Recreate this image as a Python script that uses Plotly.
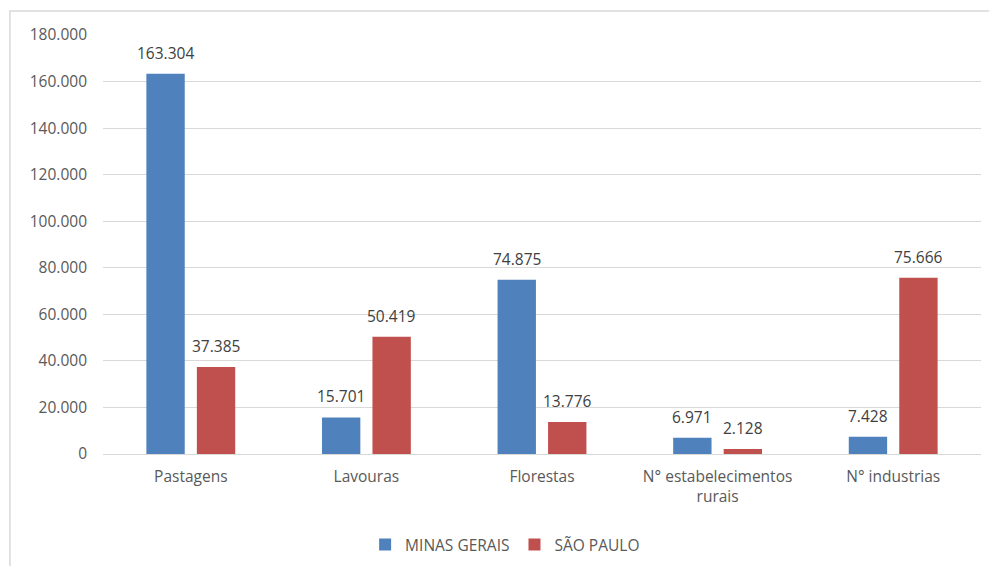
import plotly.graph_objects as go

categories = ["Pastagens", "Lavouras", "Florestas", "N° estabelecimentos<br>rurais", "N° industrias"]
minas_gerais = [163304, 15701, 74875, 6971, 7428]
sao_paulo = [37385, 50419, 13776, 2128, 75666]
tick_vals = [0, 20000, 40000, 60000, 80000, 100000, 120000, 140000, 160000, 180000]

FONT = "Open Sans, Liberation Sans, sans-serif"
TXT = "#595959"
SIZE = 15.5

fig = go.Figure()
fig.add_trace(go.Bar(
    name="MINAS GERAIS", x=categories, y=minas_gerais, offsetgroup="mg",
    marker=dict(color="#4F81BD", line=dict(width=0)),
))
fig.add_trace(go.Bar(
    name="SÃO PAULO", x=categories, y=sao_paulo, offsetgroup="sp",
    marker=dict(color="#C0504D", line=dict(width=0)),
))

# value labels above each bar, using Brazilian thousands separator
def fmt(v):
    return f"{v:,}".replace(",", ".")

annotations = []
for series, shift in ((minas_gerais, -0.143), (sao_paulo, 0.143)):
    for i, v in enumerate(series):
        annotations.append(dict(
            x=i + shift, y=v, xref="x", yref="y", text=fmt(v),
            showarrow=False, yanchor="bottom", yshift=8,
            font=dict(family=FONT, size=SIZE, color="#404040"),
        ))

fig.update_layout(
    width=989, height=566,
    margin=dict(l=103, r=8, t=35, b=112, autoexpand=False),
    paper_bgcolor="white", plot_bgcolor="white",
    separators=",.",
    barmode="group", bargap=0.425, bargroupgap=0.24,
    font=dict(family=FONT, size=SIZE, color=TXT),
    showlegend=True,
    legend=dict(orientation="h", x=0.458, xanchor="center", y=-0.217, yanchor="middle",
                font=dict(family=FONT, size=SIZE, color=TXT),
                traceorder="normal"),
    annotations=annotations,
    shapes=[dict(type="rect", xref="paper", yref="paper",
                 x0=-0.106, x1=1.02, y0=-0.3, y1=1.057,
                 line=dict(color="#d9d9d9", width=1.5), layer="below")],
)
fig.update_xaxes(type="category", showgrid=False, showline=False, ticks="",
                 automargin=False, ticklabelstandoff=11,
                 tickfont=dict(family=FONT, size=SIZE, color=TXT))
fig.update_yaxes(range=[0, 180000], tickvals=tick_vals, tickformat=",d",
                 showgrid=True, gridcolor="#d9d9d9", gridwidth=1,
                 zeroline=True, zerolinecolor="#d9d9d9", zerolinewidth=1,
                 showline=False, ticks="", automargin=False, ticklabelstandoff=15,
                 tickfont=dict(family=FONT, size=SIZE, color=TXT))

fig.write_html("out.html")
